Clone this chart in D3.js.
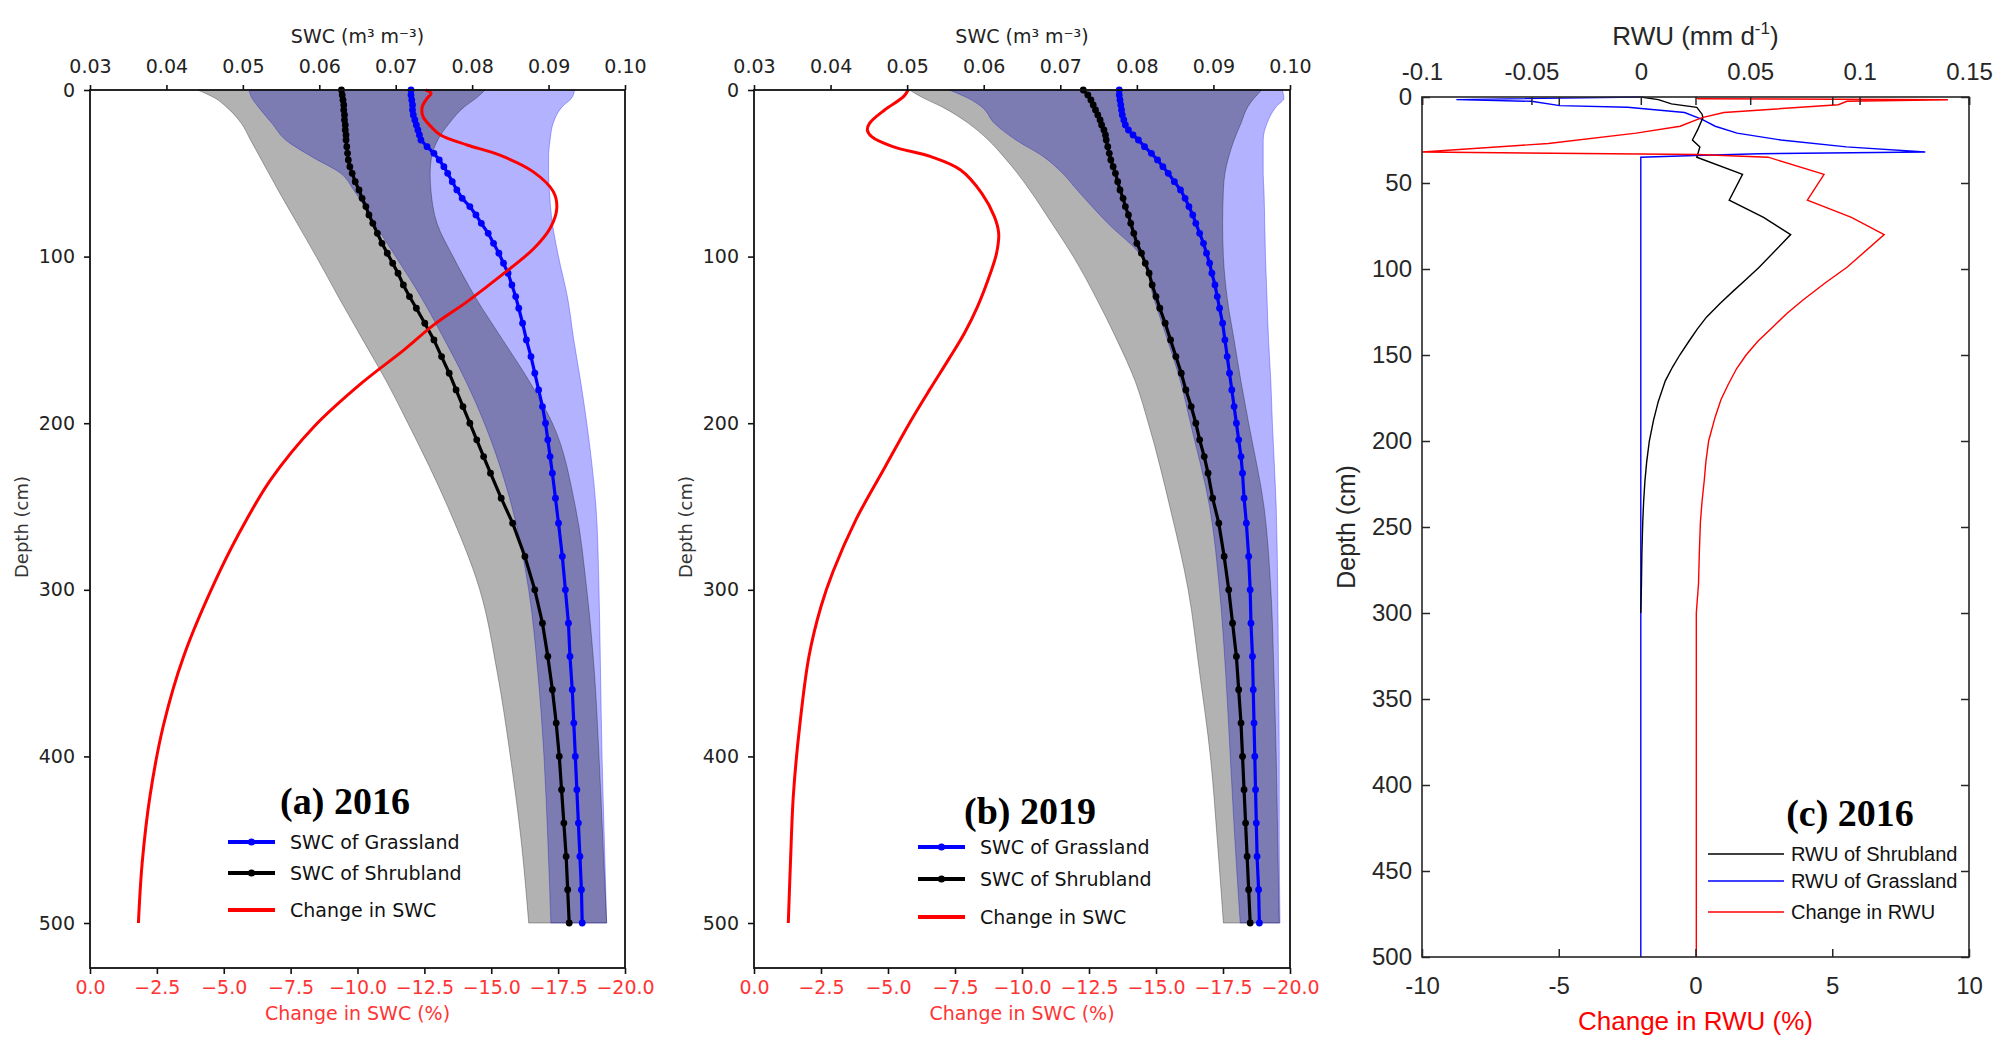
<!DOCTYPE html>
<html>
<head>
<meta charset="utf-8">
<script src="https://cdn.jsdelivr.net/npm/d3@7"></script>
<style>
  body { margin: 0; background: #fff; }
  svg { display: block; }
</style>
</head>
<body>
<svg width="2005" height="1057"></svg>
<script>
// ---- shared depth nodes for the SWC mean profiles (cm)
var nodeDepth = [0, 3, 6, 9, 12, 15, 18, 21, 24, 27, 30, 34, 38, 42, 46, 50, 55, 60, 65, 70, 75, 80, 86, 92, 98,
  104, 110, 117, 124, 131, 140, 150, 160, 170, 180, 190, 200, 210, 220, 230, 245, 260, 280, 300, 320, 340,
  360, 380, 400, 420, 440, 460, 480, 500];

// (a) 2016 mean SWC (m3 m-3)
var grassA = [0.0720, 0.0720, 0.0721, 0.0722, 0.0722, 0.0723, 0.0725, 0.0727, 0.0729, 0.0731, 0.0733, 0.0741, 0.0750,
  0.0757, 0.0763, 0.0768, 0.0774, 0.0780, 0.0787, 0.0797, 0.0805, 0.0812, 0.0821, 0.0828, 0.0835, 0.0841, 0.0847,
  0.0852, 0.0857, 0.0861, 0.0866, 0.0871, 0.0877, 0.0882, 0.0887, 0.0892, 0.0896, 0.0899, 0.0902, 0.0905, 0.0909,
  0.0913, 0.0918, 0.0922, 0.0926, 0.0928, 0.0931, 0.0933, 0.0935, 0.0937, 0.0939, 0.0941, 0.0943, 0.0944];
var shrubA = [0.0629, 0.0630, 0.0631, 0.0632, 0.0632, 0.0633, 0.0633, 0.0634, 0.0634, 0.0635, 0.0635, 0.0636, 0.0637,
  0.0638, 0.0640, 0.0643, 0.0647, 0.0652, 0.0656, 0.0661, 0.0665, 0.0670, 0.0676, 0.0682, 0.0689, 0.0696, 0.0703,
  0.0710, 0.0718, 0.0727, 0.0738, 0.0750, 0.0760, 0.0770, 0.0779, 0.0788, 0.0797, 0.0806, 0.0815, 0.0824, 0.0838,
  0.0853, 0.0869, 0.0882, 0.0892, 0.0899, 0.0905, 0.0910, 0.0914, 0.0917, 0.0920, 0.0923, 0.0925, 0.0927];

// (b) 2019 mean SWC
var grassB = [0.0777, 0.0777, 0.0778, 0.0779, 0.0780, 0.0781, 0.0783, 0.0785, 0.0789, 0.0795, 0.0802, 0.0810, 0.0819,
  0.0827, 0.0834, 0.0841, 0.0849, 0.0857, 0.0863, 0.0868, 0.0873, 0.0877, 0.0882, 0.0887, 0.0891, 0.0895, 0.0898,
  0.0902, 0.0905, 0.0908, 0.0912, 0.0915, 0.0918, 0.0921, 0.0924, 0.0927, 0.0930, 0.0933, 0.0936, 0.0938, 0.0940,
  0.0943, 0.0946, 0.0948, 0.0949, 0.0951, 0.0952, 0.0953, 0.0954, 0.0955, 0.0956, 0.0957, 0.0959, 0.0960];
var shrubB = [0.0730, 0.0736, 0.0740, 0.0743, 0.0746, 0.0749, 0.0752, 0.0754, 0.0757, 0.0759, 0.0760, 0.0762, 0.0764,
  0.0766, 0.0769, 0.0772, 0.0775, 0.0778, 0.0782, 0.0785, 0.0789, 0.0792, 0.0796, 0.0800, 0.0806, 0.0811, 0.0816,
  0.0820, 0.0825, 0.0830, 0.0837, 0.0844, 0.0851, 0.0858, 0.0864, 0.0871, 0.0877, 0.0882, 0.0888, 0.0893, 0.0899,
  0.0907, 0.0914, 0.0920, 0.0925, 0.0930, 0.0933, 0.0936, 0.0938, 0.0940, 0.0942, 0.0944, 0.0946, 0.0948];

// ---- shaded ranges
var bandDepth = [0, 5, 10, 20, 30, 40, 50, 60, 80, 100, 125, 150, 175, 200, 250, 300, 350, 400, 450, 500];
var grassLoA = [0.0508, 0.0512, 0.0520, 0.0538, 0.0556, 0.0590, 0.0628, 0.0645, 0.0672, 0.0700, 0.0734, 0.0764, 0.0792, 0.0816, 0.0852, 0.0874, 0.0886, 0.0894, 0.0899, 0.0903];
var grassHiA = [0.0934, 0.0930, 0.0918, 0.0906, 0.0902, 0.0900, 0.0900, 0.0901, 0.0905, 0.0913, 0.0925, 0.0933, 0.0942, 0.0950, 0.0962, 0.0966, 0.0968, 0.0970, 0.0973, 0.0976];
var shrubLoA = [0.0441, 0.0464, 0.0478, 0.0498, 0.0510, 0.0522, 0.0534, 0.0546, 0.0571, 0.0596, 0.0626, 0.0657, 0.0688, 0.0716, 0.0768, 0.0810, 0.0833, 0.0850, 0.0864, 0.0874];
var shrubHiA = [0.0817, 0.0805, 0.0790, 0.0770, 0.0755, 0.0747, 0.0745, 0.0746, 0.0754, 0.0775, 0.0805, 0.0840, 0.0875, 0.0905, 0.0935, 0.0950, 0.0960, 0.0966, 0.0971, 0.0976];

var grassLoB = [0.0555, 0.0580, 0.0597, 0.0614, 0.0642, 0.0678, 0.0703, 0.0722, 0.0762, 0.0806, 0.0822, 0.0840, 0.0857, 0.0870, 0.0895, 0.0908, 0.0916, 0.0922, 0.0928, 0.0935];
var grassHiB = [0.0990, 0.0992, 0.0982, 0.0970, 0.0965, 0.0965, 0.0965, 0.0966, 0.0967, 0.0968, 0.0970, 0.0972, 0.0975, 0.0977, 0.0982, 0.0984, 0.0985, 0.0986, 0.0986, 0.0987];
var shrubLoB = [0.0503, 0.0522, 0.0545, 0.0580, 0.0606, 0.0626, 0.0644, 0.0660, 0.0689, 0.0717, 0.0747, 0.0774, 0.0798, 0.0815, 0.0843, 0.0867, 0.0882, 0.0896, 0.0905, 0.0913];
var shrubHiB = [0.0963, 0.0953, 0.0945, 0.0936, 0.0927, 0.0920, 0.0915, 0.0913, 0.0912, 0.0913, 0.0918, 0.0927, 0.0936, 0.0946, 0.0966, 0.0975, 0.0979, 0.0982, 0.0984, 0.0986];

// ---- change in SWC (%)
var changeDepthA = [0, 2, 5, 10, 16, 22, 27, 33, 39, 49, 61, 71, 83, 95, 111, 127, 141, 156, 176, 202, 234, 258, 289, 340, 381, 423, 464, 500];
var changeA = [-12.55, -12.75, -12.60, -12.42, -12.45, -12.75, -13.1, -14.1, -15.3, -16.56, -17.32, -17.45, -17.2, -16.6,
  -15.4, -14.1, -12.85, -11.74, -10.15, -8.38, -6.75, -5.85, -4.85, -3.5, -2.75, -2.25, -1.95, -1.81];
var changeDepthB = [0, 4, 12, 20, 24, 28, 34, 40, 48, 62, 76, 86, 98, 110, 130, 146, 162, 180, 200, 226, 258, 289, 310, 340, 381, 423, 464, 500];
var changeB = [-5.75, -5.58, -4.87, -4.31, -4.23, -4.39, -5.18, -6.60, -7.71, -8.50, -8.97, -9.13, -9.05, -8.82, -8.34,
  -7.85, -7.25, -6.55, -5.8, -4.9, -3.8, -2.95, -2.5, -2.05, -1.71, -1.47, -1.36, -1.28];

// ---- (c) root water uptake
var shrubRwuDepth = [0, 1.5, 4, 6, 10, 12, 19, 25, 29, 35, 45, 60, 70, 80, 99, 106, 113, 120, 128, 135, 142, 150, 157,
  165, 177, 188, 200, 212, 223, 235, 247, 265, 283, 300];
var shrubRwu = [0, 0.008, 0.014, 0.0256, 0.028, 0.0284, 0.026, 0.0236, 0.027, 0.0256, 0.0465, 0.0404, 0.0561, 0.0685,
  0.0541, 0.0482, 0.0421, 0.0362, 0.0300, 0.0258, 0.0220, 0.0178, 0.0145, 0.0112, 0.0080, 0.0058, 0.0039, 0.0027,
  0.0019, 0.0013, 0.0009, 0.0005, 0.0003, 0];
var grassRwuDepth = [0, 1.5, 2.5, 5, 6, 9, 13, 17, 21, 25, 29, 32, 33, 34, 35, 500];
var grassRwu = [0, -0.0843, -0.050, -0.037, -0.006, 0.020, 0.028, 0.034, 0.044, 0.064, 0.094, 0.130, 0.054, 0.025, 0, 0];
var rwuChangeDepth = [0, 1, 1.6, 2.5, 4.5, 9, 12, 17, 21, 27, 32, 33.4, 35, 45, 60, 70, 80, 99, 108, 118, 126, 134,
  142, 150, 158, 167, 176, 186, 200, 212, 223, 235, 247, 265, 283, 300, 500];
var rwuChange = [0, 0.1, 9.23, 5.54, 5.22, 1.04, 0.24, -0.56, -2.17, -5.38, -10, 0.08, 2.65, 4.70, 4.09, 5.70, 6.90,
  5.54, 4.75, 3.93, 3.33, 2.81, 2.28, 1.85, 1.50, 1.20, 0.93, 0.72, 0.48, 0.38, 0.32, 0.24, 0.18, 0.14, 0.11, 0.03, 0.03];

// ---- tick values
var swcTicks = [0.03, 0.04, 0.05, 0.06, 0.07, 0.08, 0.09, 0.10];
var changeTicks = [0, -2.5, -5, -7.5, -10, -12.5, -15, -17.5, -20];
var depthTicks = [0, 100, 200, 300, 400, 500];
var rwuTicks = [-0.1, -0.05, 0, 0.05, 0.1, 0.15];
var rwuChangeTicks = [-10, -5, 0, 5, 10];
var rwuDepthTicks = [0, 50, 100, 150, 200, 250, 300, 350, 400, 450, 500];

var svg = d3.select("svg");
var mpl = "DejaVu Sans";
var redText = "#ff3434";

function zipRows(depth) {
  var cols = Array.prototype.slice.call(arguments, 1);
  return depth.map(function(d, i) {
    return [d].concat(cols.map(function(c) { return c[i]; }));
  });
}

function swcPanel(p) {
  var top = 90, bottom = 968;
  var g = svg.append("g");
  var y = d3.scaleLinear().domain([0, 527]).range([top, bottom]);
  var x = d3.scaleLinear().domain([0.03, 0.10]).range([p.left, p.right]);
  var xc = d3.scaleLinear().domain([0, -20]).range([p.left, p.right]);

  var band = d3.area()
      .y(function(d) { return y(d[0]); })
      .x0(function(d) { return x(d[1]); })
      .x1(function(d) { return x(d[2]); })
      .curve(d3.curveMonotoneY);

  g.append("path")
      .attr("d", band(zipRows(bandDepth, p.grassLo, p.grassHi)))
      .attr("fill", "#0000ff").attr("fill-opacity", 0.3)
      .attr("stroke", "#0000ff").attr("stroke-opacity", 0.3);
  g.append("path")
      .attr("d", band(zipRows(bandDepth, p.shrubLo, p.shrubHi)))
      .attr("fill", "#000").attr("fill-opacity", 0.3)
      .attr("stroke", "#000").attr("stroke-opacity", 0.3);

  var meanLine = d3.line()
      .x(function(d) { return x(d[1]); })
      .y(function(d) { return y(d[0]); });

  [[p.grass, "#0000ff"], [p.shrub, "#000"]].forEach(function(s) {
    var rows = zipRows(nodeDepth, s[0]);
    g.append("path")
        .attr("d", meanLine(rows))
        .attr("fill", "none").attr("stroke", s[1]).attr("stroke-width", 3.2);
    g.selectAll(null).data(rows).enter().append("circle")
        .attr("cx", function(d) { return x(d[1]); })
        .attr("cy", function(d) { return y(d[0]); })
        .attr("r", 3.4).attr("fill", s[1]);
  });

  var changeLine = d3.line()
      .x(function(d) { return xc(d[1]); })
      .y(function(d) { return y(d[0]); })
      .curve(d3.curveCatmullRom.alpha(0.5));
  g.append("path")
      .attr("d", changeLine(zipRows(p.changeDepth, p.change)))
      .attr("fill", "none").attr("stroke", "#ff0000").attr("stroke-width", 3);

  // frame
  g.append("rect")
      .attr("x", p.left).attr("y", top)
      .attr("width", p.right - p.left).attr("height", bottom - top)
      .attr("fill", "none").attr("stroke", "#111").attr("stroke-width", 1.8);

  var axTop = g.append("g").attr("transform", "translate(0," + top + ")")
      .call(d3.axisTop(x).tickValues(swcTicks).tickFormat(d3.format(".2f")).tickSize(5).tickPadding(12));
  var axLeft = g.append("g").attr("transform", "translate(" + p.left + ",0)")
      .call(d3.axisLeft(y).tickValues(depthTicks).tickSize(6).tickPadding(9));
  var axBot = g.append("g").attr("transform", "translate(0," + bottom + ")")
      .call(d3.axisBottom(xc).tickValues(changeTicks).tickFormat(d3.format(".1f")).tickSize(6).tickPadding(7));

  [axTop, axLeft, axBot].forEach(function(a) {
    a.select(".domain").remove();
    a.selectAll("line").attr("stroke", "#111").attr("stroke-width", 1.6);
    a.selectAll("text").attr("font-family", mpl).attr("font-size", 19).attr("fill", "#222");
  });
  axBot.selectAll("text").attr("fill", redText);

  var mid = (p.left + p.right) / 2;
  g.append("text").attr("x", mid).attr("y", 43)
      .attr("text-anchor", "middle").attr("font-family", mpl).attr("font-size", 19).attr("fill", "#222")
      .text("SWC (m³ m⁻³)");
  g.append("text").attr("x", mid).attr("y", 1020)
      .attr("text-anchor", "middle").attr("font-family", mpl).attr("font-size", 19).attr("fill", redText)
      .text("Change in SWC (%)");
  g.append("text")
      .attr("transform", "translate(" + p.depthLabelX + ",527) rotate(-90)")
      .attr("dy", "0.35em")
      .attr("text-anchor", "middle").attr("font-family", mpl).attr("font-size", 18).attr("fill", "#333")
      .text("Depth (cm)");

  g.append("text").attr("x", p.titleX).attr("y", p.titleY)
      .attr("text-anchor", "middle")
      .attr("font-family", "Liberation Serif").attr("font-weight", "bold").attr("font-size", 38)
      .text(p.title);

  var legend = [
    { label: "SWC of Grassland", color: "#0000ff", marker: true },
    { label: "SWC of Shrubland", color: "#000", marker: true },
    { label: "Change in SWC", color: "#ff0000", marker: false }
  ];
  legend.forEach(function(l, i) {
    var ly = p.legendY[i];
    g.append("line").attr("x1", p.legendX).attr("x2", p.legendX + 47)
        .attr("y1", ly).attr("y2", ly).attr("stroke", l.color).attr("stroke-width", 4);
    if (l.marker) {
      g.append("circle").attr("cx", p.legendX + 23.5).attr("cy", ly).attr("r", 3.6).attr("fill", l.color);
    }
    g.append("text").attr("x", p.legendX + 62).attr("y", ly).attr("dy", "0.35em")
        .attr("font-family", mpl).attr("font-size", 19).attr("fill", "#111")
        .text(l.label);
  });
}

swcPanel({
  left: 90, right: 625, depthLabelX: 22,
  grass: grassA, shrub: shrubA,
  grassLo: grassLoA, grassHi: grassHiA, shrubLo: shrubLoA, shrubHi: shrubHiA,
  changeDepth: changeDepthA, change: changeA,
  title: "(a) 2016", titleX: 345, titleY: 814,
  legendX: 228, legendY: [842, 873, 910]
});

swcPanel({
  left: 754, right: 1290, depthLabelX: 686,
  grass: grassB, shrub: shrubB,
  grassLo: grassLoB, grassHi: grassHiB, shrubLo: shrubLoB, shrubHi: shrubHiB,
  changeDepth: changeDepthB, change: changeB,
  title: "(b) 2019", titleX: 1030, titleY: 824,
  legendX: 918, legendY: [847, 879, 917]
});

// ---- panel (c)
(function() {
  var left = 1422, right = 1969, top = 97, bottom = 957;
  var font = "Liberation Sans";
  var g = svg.append("g");
  var y = d3.scaleLinear().domain([0, 500]).range([top, bottom]);
  var xr = d3.scaleLinear().domain([-0.1, 0.15]).range([left, right]);
  var xc = d3.scaleLinear().domain([-10, 10]).range([left, right]);

  var rwuLine = function(sx) {
    return d3.line().x(function(d) { return sx(d[1]); }).y(function(d) { return y(d[0]); });
  };

  g.append("path").attr("d", rwuLine(xr)(zipRows(grassRwuDepth, grassRwu)))
      .attr("fill", "none").attr("stroke", "#0000ff").attr("stroke-width", 1.4);
  g.append("path").attr("d", rwuLine(xr)(zipRows(shrubRwuDepth, shrubRwu)))
      .attr("fill", "none").attr("stroke", "#000").attr("stroke-width", 1.4);
  g.append("path").attr("d", rwuLine(xc)(zipRows(rwuChangeDepth, rwuChange)))
      .attr("fill", "none").attr("stroke", "#ff0000").attr("stroke-width", 1.4);

  g.append("rect").attr("x", left).attr("y", top)
      .attr("width", right - left).attr("height", bottom - top)
      .attr("fill", "none").attr("stroke", "#262626").attr("stroke-width", 1.6);

  var axes = [
    g.append("g").attr("transform", "translate(0," + top + ")")
        .call(d3.axisTop(xr).tickValues(rwuTicks).tickFormat(d3.format("")).tickSize(-8).tickPadding(17)),
    g.append("g").attr("transform", "translate(0," + top + ")")
        .call(d3.axisTop(xc).tickValues(rwuChangeTicks).tickFormat("").tickSize(-8)),
    g.append("g").attr("transform", "translate(0," + bottom + ")")
        .call(d3.axisBottom(xc).tickValues(rwuChangeTicks).tickFormat(d3.format("")).tickSize(-8).tickPadding(20)),
    g.append("g").attr("transform", "translate(" + left + ",0)")
        .call(d3.axisLeft(y).tickValues(rwuDepthTicks).tickSize(-8).tickPadding(10)),
    g.append("g").attr("transform", "translate(" + right + ",0)")
        .call(d3.axisRight(y).tickValues(rwuDepthTicks).tickFormat("").tickSize(-8))
  ];
  axes.forEach(function(a) {
    a.select(".domain").remove();
    a.selectAll("line").attr("stroke", "#262626").attr("stroke-width", 1.5);
    a.selectAll("text").attr("font-family", font).attr("font-size", 24).attr("fill", "#262626")
        .text(function() { return this.textContent.replace("\u2212", "-"); });
  });

  var mid = (left + right) / 2;
  var t = g.append("text").attr("x", mid).attr("y", 45).attr("text-anchor", "middle")
      .attr("font-family", font).attr("font-size", 26).attr("fill", "#262626");
  t.append("tspan").text("RWU (mm d");
  t.append("tspan").attr("font-size", 17).attr("dy", -11).text("-1");
  t.append("tspan").attr("dy", 11).text(")");

  g.append("text").attr("x", mid).attr("y", 1030).attr("text-anchor", "middle")
      .attr("font-family", font).attr("font-size", 26).attr("fill", "#ff0000")
      .text("Change in RWU (%)");
  g.append("text").attr("transform", "translate(1346,527) rotate(-90)").attr("dy", "0.35em")
      .attr("text-anchor", "middle").attr("font-family", font).attr("font-size", 25).attr("fill", "#262626")
      .text("Depth (cm)");

  g.append("text").attr("x", 1850).attr("y", 826).attr("text-anchor", "middle")
      .attr("font-family", "Liberation Serif").attr("font-weight", "bold").attr("font-size", 38)
      .text("(c) 2016");

  var legend = [
    ["RWU of Shrubland", "#000", 854],
    ["RWU of Grassland", "#0000ff", 881],
    ["Change in RWU", "#ff0000", 912]
  ];
  legend.forEach(function(l) {
    g.append("line").attr("x1", 1708).attr("x2", 1784).attr("y1", l[2]).attr("y2", l[2])
        .attr("stroke", l[1]).attr("stroke-width", 1.4);
    g.append("text").attr("x", 1791).attr("y", l[2]).attr("dy", "0.35em")
        .attr("font-family", font).attr("font-size", 20).attr("fill", "#111")
        .text(l[0]);
  });
})();
</script>
</body>
</html>
